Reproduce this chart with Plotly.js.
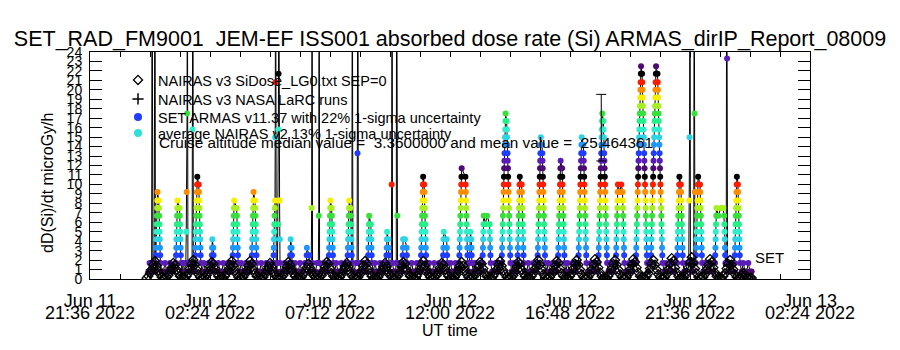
<!DOCTYPE html>
<html><head><meta charset="utf-8">
<script src="https://cdn.plot.ly/plotly-3.0.1.min.js"></script>
<style>html,body{margin:0;padding:0;background:#fff}#chart{width:900px;height:350px}</style>
</head><body><div id="chart"></div>
<script>
// ---------- axis text ----------
const tickDates = ['2022-06-11 21:36','2022-06-12 02:24','2022-06-12 07:12','2022-06-12 12:00','2022-06-12 16:48','2022-06-12 21:36','2022-06-13 02:24'];
const tickLine1 = ['Jun 11','Jun 12','Jun 12','Jun 12','Jun 12','Jun 12','Jun 13'];
const tickLine2 = ['21:36 2022','02:24 2022','07:12 2022','12:00 2022','16:48 2022','21:36 2022','02:24 2022'];
const yTickVals = [0,1,2,3,4,5,6,7,8,9,10,11,12,13,14,15,16,17,18,19,20,21,22,23,24];
const yTickText = ['0','1','2','3','4','5','6','7','8','9','10','11','12','13','14','15','16','17','18','19','20','21','22','23','24'];

// ---------- NAIRAS v3 SiDose (4-minute samples from 2022-06-12 00:00 - 8 min) ----------
const nairasStartMin = -8, nairasStepMin = 4;
const nairasDose = [
0.1,0.3,0.6,1.0,1.5,1.9,1.4,0.9,0.5,0.2,0.1,
0.1,0.2,0.4,0.8,1.2,1.7,1.5,1.0,0.6,0.3,0.2,0.1,
0.1,0.3,0.6,1.1,1.6,2.0,1.5,1.0,0.5,0.2,0.1,
0.1,0.2,0.4,0.8,1.3,1.8,1.6,1.1,0.6,0.3,0.1,0.1,
0.1,0.3,0.6,1.0,1.5,1.9,1.4,0.9,0.5,0.2,0.1,
0.1,0.2,0.5,0.9,1.4,1.9,1.6,1.0,0.6,0.3,0.2,0.1,
0.1,0.2,0.5,0.9,1.3,1.7,1.3,0.8,0.4,0.2,0.1,
0.1,0.2,0.4,0.8,1.3,1.8,1.5,1.0,0.6,0.3,0.1,0.1,
0.1,0.2,0.5,0.8,1.2,1.6,1.2,0.8,0.4,0.2,0.1,
0.1,0.2,0.4,0.8,1.3,1.8,1.6,1.1,0.6,0.3,0.2,0.1,
0.1,0.2,0.5,0.9,1.3,1.7,1.3,0.8,0.4,0.2,0.1,
0.1,0.2,0.5,0.9,1.4,1.9,1.6,1.0,0.6,0.3,0.1,0.1,
0.1,0.2,0.5,0.9,1.3,1.7,1.3,0.8,0.4,0.2,0.1,
0.1,0.2,0.4,0.8,1.3,1.8,1.6,1.0,0.6,0.3,0.2,0.1,
0.1,0.3,0.6,1.0,1.5,1.9,1.4,0.9,0.5,0.2,0.1,
0.1,0.2,0.4,0.8,1.2,1.7,1.5,1.0,0.6,0.3,0.1,0.1,
0.1,0.2,0.5,0.9,1.4,1.8,1.4,0.9,0.5,0.2,0.1,
0.1,0.2,0.4,0.8,1.3,1.8,1.6,1.1,0.6,0.3,0.2,0.1,
0.1,0.3,0.6,1.0,1.5,1.9,1.4,0.9,0.5,0.2,0.1,
0.1,0.2,0.4,0.8,1.3,1.8,1.6,1.0,0.6,0.3,0.1,0.1,
0.1,0.3,0.6,1.1,1.6,2.0,1.5,1.0,0.5,0.2,0.1,
0.1,0.2,0.5,0.9,1.4,1.9,1.7,1.1,0.6,0.3,0.2,0.1,
0.1,0.3,0.6,1.1,1.6,2.0,1.5,1.0,0.5,0.2,0.1,
0.1,0.2,0.5,1.0,1.5,2.1,1.8,1.2,0.7,0.3,0.1,0.1,
0.1,0.3,0.6,1.1,1.6,2.0,1.5,1.0,0.5,0.2,0.1,
0.1,0.2,0.5,1.0,1.5,2.1,1.8,1.2,0.7,0.3,0.2,0.1,
0.1,0.3,0.6,1.1,1.6,2.0,1.5,1.0,0.5,0.2,0.1,
0.1,0.2,0.5,1.0,1.6,2.2,1.9,1.2,0.7,0.3,0.1,0.1,
0.1,0.3,0.7,1.2,1.8,2.3,1.7,1.1,0.6,0.2,0.1,
0.1,0.2,0.5,1.0,1.5,2.1,1.8,1.2,0.7,0.3,0.2,0.1,
0.1,0.3,0.6,1.1,1.6,2.0,1.5,1.0,0.5,0.2,0.1,
0.2,0.4,0.6,0.4,0.2,0.1,0.1,0.1
];

// ---------- NAIRAS v3 NASA LaRC runs (minutes since 2022-06-12 00:00) ----------
const larcTime = [55,101,239,331,469,607,745,883,1021,1159,1297,1389];
const larcDose = [1.2,1.4,1.3,1.2,1.4,1.3,1.2,1.4,1.5,1.5,1.6,1.4];

// ---------- SET ARMAS dose rate (minutes since 2022-06-12 00:00, microGy/h; 40 = off scale) ----------
const setTime = [
-4,-1,2,4,
5,7,10,12,13,
13.5,14,14.5,15,15.5,16,16.5,17,17.5,18,
21,21.5,22,22.5,23,23.5,24,24.5,25,
28,32,36,40,44,48,52,56,
62,62.5,63,63.5,64,64.5,65,65.5,66,
71,71.5,72,72.5,73,73.5,74,74.5,
77,80,83,
86,87,88,89,89.5,91,
94,97,
101,102,103,104,106,
108,108.5,109,109.5,110,110.5,111,111.5,112,112.5,113,113.5,
117,117.5,118,118.5,119,119.5,120,120.5,121,121.5,122,
125,129,133,137,141,145,
148,148.5,149,149.5,
152,152.5,153,
156,160,164,168,172,176,180,184,188,192,195,
198,198.5,199,199.5,200,200.5,201,201.5,202,
208,208.5,209,209.5,210,210.5,211,211.5,
215,219,223,227,231,235,239,242,
244,244.5,245,245.5,246,246.5,247,247.5,248,248.5,
252,252.5,253,253.5,254,254.5,255,255.5,256,
259,263,267,271,275,279,283,287,291,
296,296.5,297,297.5,298,298.5,299,299.5,300,300.5,301,301.5,303,304,
306,307,307.5,308,308.5,309,311,311.5,312,
315,319,323,327,331,334,
336,336.5,337,337.5,
340,340.5,341,
344,348,352,356,360,364,368,372,
375.5,376,376.5,382,382.5,385,
387,388,389,390,
393,397,401,
404,405,406,407,
410,414,418,422,426,
429,429.5,430,430.5,431,431.5,432,432.5,433,
436,436.5,437,437.5,438,438.5,439,439.5,
443,447,451,455,459,463,467,471,
474,474.5,475,475.5,476,476.5,477,477.5,478,
481,481.5,482,482.5,483,483.5,484,484.5,
485.5,487,490,494,
497,498,499,500,
503,507,511,515,519,
523,523.5,524,524.5,525,525.5,526,
530,530.5,531,531.5,532,532.5,
536,540,544,548,552,556,560,564,
567,567.5,568,568.5,569,
572,572.5,573,573.5,
576,
579,580,581,582,
585,589,
591,592,593.5,594,
597,601,604,
606,606.5,607,607.5,612,616,616.5,617,
620,624,628,632,636,640,644,647,
650,650.5,651,651.5,652,652.5,653,653.5,654,654.5,655,655.5,
658,658.5,659,659.5,660,660.5,661,661.5,662,662.5,663,
666,670,674,678,682,686,690,694,698,701,
703,703.5,704,704.5,705,
712,712.5,713,713.5,
717,721,725,729,733,737,740,
742,742.5,743,743.5,744,744.5,745,745.5,746,746.5,747,747.5,748,
757,757.5,758,758.5,759,759.5,760,760.5,761,761.5,762,762.5,
765,
767,767.5,768,768.5,769,
771,771.5,772,772.5,
776,780,784,788,792,795,
798,798.5,799,799.5,800,800.5,801,
805,809,
815,815.5,816,816.5,817,817.5,
821,825,829,833,837,841,
844,844.5,845,845.5,846,846.5,847,847.5,848,848.5,849,849.5,850,850.5,851,851.5,852,852.5,853,853.5,
856,856.5,857,857.5,858,858.5,859,859.5,860,860.5,861,861.5,862,862.5,863,863.5,864,864.5,865,
868,872,876,879,
882,882.5,883,883.5,884,884.5,885,885.5,886,886.5,887,887.5,
892,892.5,893,893.5,894,894.5,895,895.5,896,896.5,897,
900,904,908,912,916,920,924,927,
930,930.5,931,931.5,932,932.5,933,933.5,934,934.5,935,935.5,936,936.5,937,937.5,938,
941,941.5,942,942.5,943,943.5,944,944.5,945,945.5,946,946.5,947,947.5,948,948.5,
952,956,960,964,968,972,976,
979,979.5,980,980.5,981,981.5,982,982.5,983,983.5,984,984.5,985,985.5,
989,989.5,990,990.5,991,991.5,992,992.5,993,993.5,994,994.5,995,
998,1002,1006,1010,1014,1018,1022,1025,
1028,1028.5,1029,1029.5,1030,1030.5,1031,1031.5,1032,1032.5,1033,1033.5,1034,1034.5,1035,1035.5,1036,
1040,1040.5,1041,1041.5,1042,1042.5,1043,1043.5,1044,1044.5,1045,1045.5,1046,1046.5,1047,1047.5,
1051,1055,1059,1063,1067,1071,1074,
1076,1076.5,1077,1077.5,1078,1078.5,1079,1079.5,1080,1080.5,1081,1081.5,1082,1082.5,1083,1083.5,1084,1084.5,1085,1085.5,
1088,1088.5,1089,1089.5,1090,1090.5,1091,1091.5,1092,1092.5,1093,1093.5,1094,1094.5,1095,1095.5,1096,1096.5,1097,
1100,1104,1108,1112,1115,
1118,1118.5,1119,1119.5,1120,1120.5,1121,1121.5,1122,1122.5,1123,
1127,1131,
1134,1134.5,1135,1135.5,1136,1136.5,1137,1137.5,1138,1138.5,
1142,1146,1150,1154,1158,1162,
1166,1166.5,1167,1167.5,1168,1168.5,1169,1169.5,1170,1170.5,1171,1171.5,1172,1172.5,1173,1173.5,1174,1174.5,1175,1175.5,1176,1176.5,1177,1177.5,1178,1178.5,
1181,1181.5,1182,1182.5,1183,1183.5,1184,1184.5,1185,1185.5,1186,1186.5,1187,1187.5,1188,1188.5,1189,1189.5,1190,1190.5,1191,1191.5,1192,1192.5,1193,
1196,1199,
1202,1202.5,1203,1203.5,1204,1204.5,1205,1205.5,1206,1206.5,1207,1207.5,1208,1208.5,1209,1209.5,1210,1210.5,1211,1211.5,1212,1212.5,1213,1213.5,1214,1214.5,
1218,1218.5,1219,1219.5,1220,1220.5,1221,1221.5,1222,1222.5,1223,1223.5,1224,1224.5,1225,1225.5,1226,1226.5,1227,1227.5,1228,1228.5,1229,1229.5,1230,
1234,1238,1242,1246,1250,1254,1258,1262,
1265,1265.5,1266,1266.5,1267,1267.5,1268,1268.5,1269,1269.5,1270,1270.5,
1274,1274.5,1275,1275.5,1276,1276.5,1277,1277.5,1278,1278.5,1279,
1282,1286,1290,
1293,1294,1295,1296,1297,1300,1303,
1305,1306,1307,1307.5,1308,
1310,1310.5,1311,1311.5,1312,1312.5,1313,1313.5,1314,1314.5,1315,1315.5,
1320,1320.5,1321,1321.5,1322,1322.5,1323,1323.5,1324,1324.5,1325,
1328,1332,1336,1340,1344,1348,1352,
1356,1356.5,1357,1357.5,1358,1358.5,1359,1359.5,
1364,1370,1376,
1378,1378.5,1379,1379.5,1380,1380.5,1381,
1383,1384,1385,1386,
1389,1393,1397,1400,
1403,1403.5,1404,1404.5,1405,1405.5,1406,1406.5,1407,1407.5,1408,1408.5,
1411,1411.5,1412,1412.5,1413,1413.5,1414,1414.5,1415,1415.5,1416,
1420,1424,1428,1432,1436,1440,1444
];
const setDose = [
0.8,1.7,0.8,1.7,
40,0.8,1.7,40,0.8,
1.7,2.5,3.3,4.2,5.0,5.8,6.7,7.5,8.3,9.2,
8.3,7.5,6.7,5.8,5.0,4.2,3.3,2.5,1.7,
0.8,0.8,1.7,0.8,0.8,1.7,0.8,0.8,
1.7,2.5,3.3,4.2,5.0,5.8,6.7,7.5,8.3,
7.5,6.7,5.8,5.0,4.2,3.3,2.5,1.7,
0.8,1.7,0.8,
1.7,5.0,9.2,17.5,40,1.7,
0.8,0.8,
1.7,15.8,40,1.7,0.8,
1.7,2.5,3.3,4.2,5.0,5.8,6.7,7.5,8.3,9.2,10.0,10.8,
10.0,9.2,8.3,7.5,6.7,5.8,5.0,4.2,3.3,2.5,1.7,
0.8,1.7,0.8,0.8,1.7,0.8,
1.7,2.5,3.3,4.2,
3.3,2.5,1.7,
0.8,0.8,1.7,0.8,0.8,1.7,0.8,0.8,1.7,0.8,0.8,
1.7,2.5,3.3,4.2,5.0,5.8,6.7,7.5,8.3,
7.5,6.7,5.8,5.0,4.2,3.3,2.5,1.7,
0.8,1.7,0.8,0.8,1.7,0.8,0.8,1.7,
1.7,2.5,3.3,4.2,5.0,5.8,6.7,7.5,8.3,9.2,
8.3,7.5,6.7,5.8,5.0,4.2,3.3,2.5,1.7,
0.8,0.8,1.7,0.8,0.8,1.7,0.8,0.8,1.7,
1.7,2.5,3.3,4.2,5.0,5.8,6.7,7.5,8.3,15.0,20.8,40,1.7,0.8,
1.7,5.8,8.3,15.8,21.7,40,8.3,4.2,1.7,
0.8,0.8,1.7,0.8,0.8,1.7,
1.7,2.5,3.3,4.2,
3.3,2.5,1.7,
0.8,1.7,0.8,0.8,1.7,0.8,0.8,1.7,
1.7,2.5,3.3,2.5,1.7,0.8,
1.7,7.5,40,1.7,
0.8,0.8,1.7,
1.7,6.7,40,1.7,
0.8,0.8,1.7,0.8,0.8,
1.7,2.5,3.3,4.2,5.0,5.8,6.7,7.5,8.3,
7.5,6.7,5.8,5.0,4.2,3.3,2.5,1.7,
0.8,1.7,0.8,0.8,1.7,0.8,0.8,1.7,
1.7,2.5,3.3,4.2,5.0,5.8,6.7,7.5,8.3,
7.5,6.7,5.8,5.0,4.2,3.3,2.5,1.7,
40,0.8,0.8,1.7,
1.7,13.3,40,1.7,
0.8,0.8,1.7,0.8,0.8,
1.7,2.5,3.3,4.2,5.0,5.8,6.7,
5.8,5.0,4.2,3.3,2.5,1.7,
0.8,1.7,0.8,0.8,1.7,0.8,0.8,1.7,
1.7,2.5,3.3,4.2,5.0,
4.2,3.3,2.5,1.7,
0.8,
1.7,10.0,40,1.7,
0.8,0.8,
1.7,40,6.7,1.7,
0.8,1.7,0.8,
1.7,2.5,3.3,4.2,4.2,3.3,2.5,1.7,
0.8,0.8,1.7,0.8,0.8,1.7,0.8,0.8,
1.7,2.5,3.3,4.2,5.0,5.8,6.7,7.5,8.3,9.2,10.0,10.8,
10.0,9.2,8.3,7.5,6.7,5.8,5.0,4.2,3.3,2.5,1.7,
0.8,1.7,0.8,0.8,1.7,0.8,0.8,1.7,0.8,0.8,
1.7,2.5,3.3,4.2,5.0,
4.2,3.3,2.5,1.7,
0.8,1.7,0.8,0.8,1.7,0.8,0.8,
1.7,2.5,3.3,4.2,5.0,5.8,6.7,7.5,8.3,9.2,10.0,10.8,11.7,
10.8,10.0,9.2,8.3,7.5,6.7,5.8,5.0,4.2,3.3,2.5,1.7,
0.8,
1.7,2.5,3.3,4.2,5.0,
4.2,3.3,2.5,1.7,
0.8,1.7,0.8,0.8,1.7,0.8,
1.7,2.5,3.3,4.2,5.0,5.8,6.7,
5.8,6.7,
5.8,5.0,4.2,3.3,2.5,1.7,
0.8,0.8,1.7,0.8,0.8,1.7,
1.7,2.5,3.3,4.2,5.0,5.8,6.7,7.5,8.3,9.2,10.0,10.8,11.7,12.5,13.3,14.2,15.0,15.8,16.7,17.5,
16.7,15.8,15.0,14.2,13.3,12.5,11.7,10.8,10.0,9.2,8.3,7.5,6.7,5.8,5.0,4.2,3.3,2.5,1.7,
0.8,1.7,0.8,0.8,
1.7,2.5,3.3,4.2,5.0,5.8,6.7,7.5,8.3,9.2,10.0,10.8,
10.0,9.2,8.3,7.5,6.7,5.8,5.0,4.2,3.3,2.5,1.7,
0.8,0.8,1.7,0.8,0.8,1.7,0.8,0.8,
1.7,2.5,3.3,4.2,5.0,5.8,6.7,7.5,8.3,9.2,10.0,10.8,11.7,12.5,13.3,14.2,15.0,
14.2,13.3,12.5,11.7,10.8,10.0,9.2,8.3,7.5,6.7,5.8,5.0,4.2,3.3,2.5,1.7,
0.8,1.7,0.8,0.8,1.7,0.8,0.8,
1.7,2.5,3.3,4.2,5.0,5.8,6.7,7.5,8.3,9.2,10.0,10.8,11.7,12.5,
11.7,10.8,10.0,9.2,8.3,7.5,6.7,5.8,5.0,4.2,3.3,2.5,1.7,
0.8,1.7,0.8,0.8,1.7,0.8,0.8,1.7,
1.7,2.5,3.3,4.2,5.0,5.8,6.7,7.5,8.3,9.2,10.0,10.8,11.7,12.5,13.3,14.2,15.0,
14.2,13.3,12.5,11.7,10.8,10.0,9.2,8.3,7.5,6.7,5.8,5.0,4.2,3.3,2.5,1.7,
0.8,0.8,1.7,0.8,0.8,1.7,0.8,
1.7,2.5,3.3,4.2,5.0,5.8,6.7,7.5,8.3,9.2,10.0,10.8,11.7,12.5,13.3,14.2,15.0,15.8,16.7,17.5,
16.7,15.8,15.0,14.2,13.3,12.5,11.7,10.8,10.0,9.2,8.3,7.5,6.7,5.8,5.0,4.2,3.3,2.5,1.7,
0.8,1.7,0.8,0.8,1.7,
1.7,2.5,3.3,4.2,5.0,5.8,6.7,7.5,8.3,9.2,10.0,
9.2,10.0,
9.2,8.3,7.5,6.7,5.8,5.0,4.2,3.3,2.5,1.7,
0.8,0.8,1.7,0.8,0.8,1.7,
1.7,2.5,3.3,4.2,5.0,5.8,6.7,7.5,8.3,9.2,10.0,10.8,11.7,12.5,13.3,14.2,15.0,15.8,16.7,17.5,18.3,19.2,20.0,20.8,21.7,22.5,
21.7,20.8,20.0,19.2,18.3,17.5,16.7,15.8,15.0,14.2,13.3,12.5,11.7,10.8,10.0,9.2,8.3,7.5,6.7,5.8,5.0,4.2,3.3,2.5,1.7,
0.8,1.7,
1.7,2.5,3.3,4.2,5.0,5.8,6.7,7.5,8.3,9.2,10.0,10.8,11.7,12.5,13.3,14.2,15.0,15.8,16.7,17.5,18.3,19.2,20.0,20.8,21.7,22.5,
21.7,20.8,20.0,19.2,18.3,17.5,16.7,15.8,15.0,14.2,13.3,12.5,11.7,10.8,10.0,9.2,8.3,7.5,6.7,5.8,5.0,4.2,3.3,2.5,1.7,
0.8,1.7,0.8,0.8,1.7,0.8,0.8,1.7,
1.7,2.5,3.3,4.2,5.0,5.8,6.7,7.5,8.3,9.2,10.0,10.8,
10.0,9.2,8.3,7.5,6.7,5.8,5.0,4.2,3.3,2.5,1.7,
0.8,0.8,1.7,
1.7,8.3,15.0,40,1.7,0.8,0.8,
1.7,40,17.5,9.2,1.7,
1.7,2.5,3.3,4.2,5.0,5.8,6.7,7.5,8.3,9.2,10.0,10.8,
10.0,9.2,8.3,7.5,6.7,5.8,5.0,4.2,3.3,2.5,1.7,
0.8,1.7,0.8,0.8,1.7,0.8,0.8,
1.7,2.5,3.3,4.2,5.0,5.8,6.7,7.5,
6.7,7.5,7.5,
6.7,5.8,5.0,4.2,3.3,2.5,1.7,
1.7,40,23.3,1.7,
0.8,0.8,1.7,0.8,
1.7,2.5,3.3,4.2,5.0,5.8,6.7,7.5,8.3,9.2,10.0,10.8,
10.0,9.2,8.3,7.5,6.7,5.8,5.0,4.2,3.3,2.5,1.7,
0.8,1.7,0.8,0.8,1.7,0.8,0.8
];

// one SET point shown with its 22% 1-sigma uncertainty
const errTime = [1083];
const errDose = [16.0];
const errPercent = 22;

// ---------- helpers ----------
const T0 = Date.UTC(2022,5,12,0,0,0);
const toMs = m => T0 + m*60000;
const palette = ['#4b0b72','#5a1cb8','#1f3dff','#1e96ff','#2cd4e6','#2ef0c8','#24f08a','#38e03a','#a6f01e','#f6f000','#ff8c00','#ff1c00','#000000'];
function doseColor(v){ const k = Math.round(v/0.8333); return palette[(((k-1)%13)+13)%13]; }

const nairasX = nairasDose.map((v,i)=>toMs(nairasStartMin + i*nairasStepMin));
const FONT = '"Liberation Sans", Arial, sans-serif';
const px2x = p => (p-90)/720, px2y = p => (279-p)/227;

const traces = [
  {type:'scatter', mode:'lines+markers', x:setTime.map(toMs), y:setDose, showlegend:false,
   line:{color:'#000', width:1}, marker:{symbol:'circle', size:6, color:setDose.map(doseColor), line:{width:0}}, hoverinfo:'skip'},
  {type:'scatter', mode:'markers', x:errTime.map(toMs), y:errDose, showlegend:false,
   marker:{size:1, color:'#000'}, error_y:{type:'percent', value:errPercent, color:'#000', thickness:1, width:5}},
  {type:'scatter', mode:'lines', x:nairasX, y:nairasDose, showlegend:false, line:{color:'#000', width:1.2}},
  {type:'scatter', mode:'markers', name:'NAIRAS v3 SiDose_LG0.txt SEP=0', x:nairasX, y:nairasDose, legend:'legend',
   marker:{symbol:'diamond-open', size:7, color:'#000', line:{width:1.3, color:'#000'}}},
  {type:'scatter', mode:'markers', name:'NAIRAS v3 NASA LaRC runs', x:larcTime.map(toMs), y:larcDose, legend:'legend2',
   marker:{symbol:'cross-thin-open', size:8, color:'#000', line:{width:1.5, color:'#000'}}},
  {type:'scatter', mode:'markers', name:'SET ARMAS v11.37 with 22% 1-sigma uncertainty', x:[null], y:[null], legend:'legend3',
   marker:{symbol:'circle', size:8, color:'#1f3dff'}},
  {type:'scatter', mode:'markers', name:'average NAIRAS v2 13% 1-sigma uncertainty', x:[null], y:[null], legend:'legend4',
   marker:{symbol:'circle', size:8, color:'#2ee0d8'}}
];

const annotations = tickDates.map((d,i)=>({x:d, xref:'x', y:px2y(313), yref:'paper', text:tickLine2[i], showarrow:false,
  xanchor:'center', yanchor:'middle', font:{size:18, family:FONT, color:'#000'}}));
annotations.push({x:0.5, xref:'paper', y:px2y(330), yref:'paper', text:'UT time', showarrow:false, xanchor:'center', yanchor:'middle', font:{size:16, family:FONT, color:'#000'}});
annotations.push({x:px2x(47), xref:'paper', y:px2y(183), yref:'paper', text:'dD(Si)/dt microGy/h', textangle:-90, showarrow:false, xanchor:'center', yanchor:'middle', font:{size:16, family:FONT, color:'#000'}});
annotations.push({x:px2x(157), xref:'paper', y:px2y(142), yref:'paper', text:'Cruise altitude median value =  3.3600000 and mean value =  25.464361', showarrow:false, xanchor:'left', yanchor:'middle', font:{size:15.3, family:FONT, color:'#000'}});
annotations.push({x:px2x(753), xref:'paper', y:px2y(257), yref:'paper', text:'SET', showarrow:false, xanchor:'left', yanchor:'middle', font:{size:15, family:FONT, color:'#000'}});

const legendBase = (yc) => ({x:px2x(118), y:px2y(yc), xanchor:'left', yanchor:'middle', bgcolor:'rgba(0,0,0,0)', borderwidth:0,
  font:{size:14.5, family:FONT, color:'#000'}, itemwidth:30});

const layout = {
  width:900, height:350, margin:{l:90, r:90, t:52, b:71},
  paper_bgcolor:'#fff', plot_bgcolor:'#fff',
  font:{family:FONT, color:'#000'},
  title:{text:'SET_RAD_FM9001  JEM-EF ISS001 absorbed dose rate (Si) ARMAS_dirIP_Report_08009',
    x:0.5, xanchor:'center', xref:'paper', y:1-38/350, yref:'container', yanchor:'middle', font:{size:21.5, family:FONT, color:'#000'}},
  xaxis:{type:'date', range:[tickDates[0], tickDates[6]], tickmode:'array', tickvals:tickDates, ticktext:tickLine1,
    ticks:'inside', ticklen:5, tickcolor:'#000', tickwidth:1, showline:true, linecolor:'#000', linewidth:1, mirror:'allticks',
    showgrid:false, zeroline:false, tickfont:{size:18, family:FONT, color:'#000'}, ticklabelstandoff:5,
    minor:{dtick:72*60000, tick0:tickDates[0], ticks:'inside', ticklen:5, tickcolor:'#000', showgrid:false}},
  yaxis:{range:[0,24], tickmode:'array', tickvals:yTickVals, ticktext:yTickText,
    ticks:'inside', ticklen:12, tickcolor:'#000', tickwidth:1, showline:true, linecolor:'#000', linewidth:1, mirror:'allticks',
    showgrid:false, zeroline:false, tickfont:{size:14, family:FONT, color:'#000'}, ticklabelstandoff:4},
  showlegend:true,
  legend:legendBase(80), legend2:legendBase(99), legend3:legendBase(117), legend4:legendBase(133),
  annotations:annotations
};

Plotly.newPlot('chart', traces, layout, {displayModeBar:false, staticPlot:true});
</script>
</body></html>
